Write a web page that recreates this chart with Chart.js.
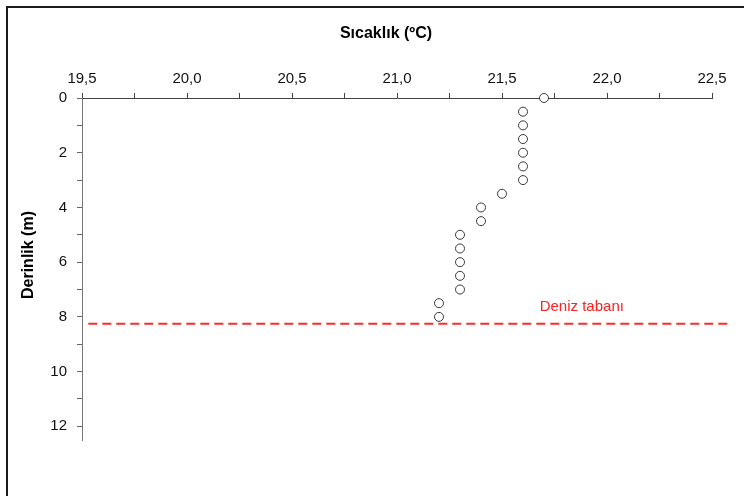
<!DOCTYPE html>
<html lang="tr">
<head>
<meta charset="utf-8">
<title>Sıcaklık – Derinlik profili</title>
<script src="https://cdn.jsdelivr.net/npm/chart.js@4/dist/chart.umd.min.js"></script>
<style>
  html, body { margin: 0; padding: 0; background: #fff; }
  #wrap { position: relative; width: 744px; height: 496px; overflow: hidden; }
  #frame {
    position: absolute; left: 6px; top: 6px; width: 800px; height: 560px;
    border-top: 2px solid #1c1c1c; border-left: 2px solid #1c1c1c;
    pointer-events: none;
  }
  canvas { position: absolute; left: 0; top: 0; }
</style>
</head>
<body>
<div id="wrap">
  <canvas id="chart" width="744" height="496"></canvas>
  <div id="frame"></div>
</div>
<script>
// Measured temperature profile (°C) against depth (m)
const temperatures = [21.7, 21.6, 21.6, 21.6, 21.6, 21.6, 21.6, 21.5, 21.4, 21.4, 21.3, 21.3, 21.3, 21.3, 21.3, 21.2, 21.2];
const depths       = [0,    0.5,  1,    1.5,  2,    2.5,  3,    3.5,  4,    4.5,  5,    5.5,  6,    6.5,  7,    7.5,  8];

// Sea floor reference line
const seaFloorDepth = 8.25;
const seaFloorSpan = [19.53, 22.59];
const seaFloorLabel = 'Deniz tabanı';
const seaFloorLabelAt = { x: 21.88, y: 7.62 };

// Axis ranges, tick positions and titles
const tempRange = [19.5, 22.5];
const depthRange = [0, 12.5];
const tempTicks = [19.5, 19.75, 20.0, 20.25, 20.5, 20.75, 21.0, 21.25, 21.5, 21.75, 22.0, 22.25, 22.5];
const tempTickLabels = ['19,5', '', '20,0', '', '20,5', '', '21,0', '', '21,5', '', '22,0', '', '22,5'];
const depthTicks = [0, 1, 2, 3, 4, 5, 6, 7, 8, 9, 10, 11, 12];
const depthTickLabels = ['0', '', '2', '', '4', '', '6', '', '8', '', '10', '', '12'];
const xTitle = 'Sıcaklık (ºC)';
const yTitle = 'Derinlik (m)';

const FONT = '"Liberation Sans", Arial, sans-serif';

const profilePoints = temperatures.map((t, i) => ({ x: t, y: depths[i] }));
const seaFloorPoints = seaFloorSpan.map(x => ({ x, y: seaFloorDepth }));

const textPlugin = {
  id: 'chartTexts',
  afterDraw(chart) {
    const ctx = chart.ctx;
    const xs = chart.scales.x, ys = chart.scales.y;
    ctx.save();
    // x axis title
    ctx.font = 'bold 16px ' + FONT;
    ctx.fillStyle = '#000';
    ctx.textAlign = 'center';
    ctx.textBaseline = 'middle';
    ctx.fillText(xTitle, 386, 34);
    // y axis title
    ctx.save();
    ctx.translate(29, 255);
    ctx.rotate(-Math.PI / 2);
    ctx.fillText(yTitle, 0, 0);
    ctx.restore();
    // sea floor label
    ctx.font = '15px ' + FONT;
    ctx.fillStyle = '#ff2020';
    ctx.fillText(seaFloorLabel, xs.getPixelForValue(seaFloorLabelAt.x), ys.getPixelForValue(seaFloorLabelAt.y));
    ctx.restore();
  }
};

new Chart(document.getElementById('chart'), {
  type: 'scatter',
  data: {
    datasets: [
      {
        label: 'Sıcaklık',
        data: profilePoints,
        pointRadius: 4.5,
        pointHoverRadius: 4.5,
        pointBorderColor: '#3a3a3a',
        pointBackgroundColor: '#ffffff',
        pointBorderWidth: 1,
        showLine: false,
        clip: false
      },
      {
        label: seaFloorLabel,
        type: 'line',
        data: seaFloorPoints,
        borderColor: '#ff2a2a',
        borderWidth: 2,
        borderDash: [9, 5],
        pointRadius: 0,
        clip: false
      }
    ]
  },
  options: {
    responsive: false,
    animation: false,
    events: [],
    layout: { padding: { left: 0, top: 0, right: 32, bottom: 56 } },
    plugins: { legend: { display: false }, tooltip: { enabled: false } },
    scales: {
      x: {
        type: 'linear',
        position: 'top',
        min: tempRange[0],
        max: tempRange[1],
        afterFit: s => { s.height = 98; },
        afterBuildTicks: s => { s.ticks = tempTicks.map(value => ({ value })); },
        ticks: {
          autoSkip: false,
          maxRotation: 0,
          padding: 5,
          color: '#111',
          font: { family: FONT, size: 15 },
          callback: (v, i) => tempTickLabels[i]
        },
        grid: { drawOnChartArea: false, drawTicks: true, tickLength: 5, color: '#444' },
        border: { display: true, color: '#444', width: 1 }
      },
      y: {
        type: 'linear',
        reverse: true,
        min: depthRange[0],
        max: depthRange[1],
        afterFit: s => { s.width = 82; },
        afterBuildTicks: s => { s.ticks = depthTicks.map(value => ({ value })); },
        ticks: {
          autoSkip: false,
          padding: 10,
          color: '#111',
          font: { family: FONT, size: 15 },
          callback: (v, i) => depthTickLabels[i]
        },
        grid: { drawOnChartArea: false, drawTicks: true, tickLength: 5, color: '#666' },
        border: { display: true, color: '#777', width: 1 }
      }
    }
  },
  plugins: [textPlugin]
});
</script>
</body>
</html>
